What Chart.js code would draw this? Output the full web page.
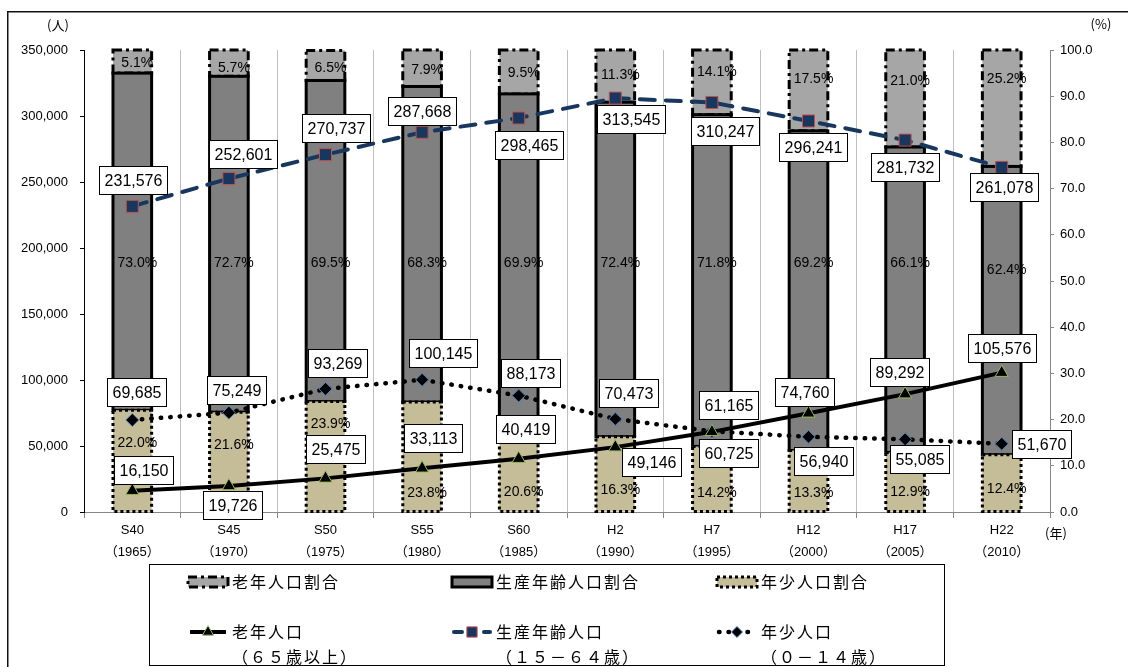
<!DOCTYPE html>
<html lang="ja">
<head>
<meta charset="utf-8">
<title>年齢3区分別人口の推移</title>
<script src="https://cdn.jsdelivr.net/npm/chart.js@4.4.1/dist/chart.umd.min.js"></script>
<style>
  html, body { margin: 0; padding: 0; background: #fff; }
  #wrap { width: 1128px; height: 667px; }
</style>
</head>
<body>
<div id="wrap"><canvas id="popChart" width="1128" height="667"></canvas></div>
<script>
// 年次（和暦・西暦）
const yearsWareki  = ['S40', 'S45', 'S50', 'S55', 'S60', 'H2', 'H7', 'H12', 'H17', 'H22'];
const yearsSeireki = ['1965', '1970', '1975', '1980', '1985', '1990', '1995', '2000', '2005', '2010'];

// 人口（人）
const elderlyPop = [16150, 19726, 25475, 33113, 40419, 49146, 60725, 74760, 89292, 105576];
const workingPop = [231576, 252601, 270737, 287668, 298465, 313545, 310247, 296241, 281732, 261078];
const youngPop   = [69685, 75249, 93269, 100145, 88173, 70473, 61165, 56940, 55085, 51670];

// 割合（％）
const youngPct   = [22.0, 21.6, 23.9, 23.8, 20.6, 16.3, 14.2, 13.3, 12.9, 12.4];
const workingPct = [73.0, 72.7, 69.5, 68.3, 69.9, 72.4, 71.8, 69.2, 66.1, 62.4];
const elderlyPct = [5.1, 5.7, 6.5, 7.9, 9.5, 11.3, 14.1, 17.5, 21.0, 25.2];

// 目盛
const popMax = 350000, popStep = 50000;
const pctMax = 100, pctStep = 10;

// 凡例の２行目
const ageRanges = ['（６５歳以上）', '（１５－６４歳）', '（０－１４歳）'];

// 人口ラベルの位置調整（点からのずれ px）
const elderlyShift = [[11,-21],[4,19],[10,-29],[11,-30],[7,-30],[36,15],[17,21],[-4,-21],[-6,-22],[0,-25]];
const workingShift = [[1,-26],[14,-25],[10,-27],[0,-21],[10,27],[16,21],[13,29],[4,26],[0,27],[2,20]];
const youngShift   = [[4,-28],[8,-23],[12,-26],[21,-27],[12,-23],[13,-26],[17,-26],[15,24],[14,20],[40,0]];

// 割合ラベルの位置調整（棒の中心からのずれ px）
const youngPctDy   = [-18, -17, -32, 36, 28, 16, 14, 12, 10, 6];
const workingPctDy = [21, 19, 22, 19, 8, -6, -17, -28, -37, -40];
const elderlyPctDy = [2, 5, 3, 2, 1, -1, -10, -11, -17, -29];

const NUM_FONT = '"Liberation Sans", Arial, "Noto Sans CJK JP", sans-serif';
const JP_FONT = '"Noto Sans CJK JP", "Liberation Sans", sans-serif';
Chart.defaults.font.family = NUM_FONT;
Chart.defaults.color = '#000';

// 背景と外枠
const frame = {
  id: 'frame',
  beforeDraw(chart) {
    const ctx = chart.ctx;
    ctx.save();
    ctx.fillStyle = '#fff';
    ctx.fillRect(0, 0, chart.width, chart.height);
    ctx.strokeStyle = '#111';
    ctx.lineWidth = 1.5;
    ctx.beginPath();
    ctx.moveTo(7.75, chart.height);
    ctx.lineTo(7.75, 11.75);
    ctx.lineTo(chart.width, 11.75);
    ctx.stroke();
    ctx.restore();
  }
};

// 棒の枠線（点線・実線・一点鎖線）
const barOutline = {
  id: 'barOutline',
  afterDatasetDraw(chart, args) {
    const ds = chart.data.datasets[args.index];
    if (ds.type !== 'bar') return;
    const ctx = chart.ctx;
    ctx.save();
    ctx.strokeStyle = '#000';
    ctx.lineWidth = 3;
    ctx.setLineDash(ds.outlineDash);
    args.meta.data.forEach(bar => {
      const p = bar.getProps(['x', 'y', 'base', 'width'], true);
      const top = Math.max(Math.min(p.y, p.base), chart.chartArea.top);
      ctx.strokeRect(p.x - p.width / 2, top, p.width, Math.max(p.y, p.base) - top);
    });
    ctx.restore();
  }
};

// データラベル
const labels = {
  id: 'labels',
  afterDatasetsDraw(chart) {
    const ctx = chart.ctx;
    ctx.save();
    ctx.textAlign = 'center';
    ctx.textBaseline = 'middle';

    // 割合
    ctx.font = '14px ' + NUM_FONT;
    ctx.fillStyle = '#000';
    [[0, youngPctDy], [1, workingPctDy], [2, elderlyPctDy]].forEach(([di, dy]) => {
      const vals = chart.data.datasets[di].data;
      chart.getDatasetMeta(di).data.forEach((bar, i) => {
        const p = bar.getProps(['x', 'y', 'base'], true);
        const top = Math.max(Math.min(p.y, p.base), chart.chartArea.top);
        const mid = (top + Math.max(p.y, p.base)) / 2;
        ctx.fillText(vals[i].toFixed(1) + '%', p.x + 5, mid + dy[i]);
      });
    });

    // 人口（白抜きの枠）
    ctx.font = '16px ' + NUM_FONT;
    [[3, elderlyShift], [4, workingShift], [5, youngShift]].forEach(([di, shift]) => {
      const vals = chart.data.datasets[di].data;
      chart.getDatasetMeta(di).data.forEach((pt, i) => {
        const text = vals[i].toLocaleString('en-US');
        const w = Math.round(ctx.measureText(text).width + 10), h = 28;
        const cx = pt.x + shift[i][0], cy = pt.y + shift[i][1];
        const l = Math.round(cx - w / 2) + 0.5, t = Math.round(cy - h / 2) + 0.5;
        ctx.fillStyle = '#fff';
        ctx.fillRect(l, t, w, h);
        ctx.strokeStyle = '#000';
        ctx.lineWidth = 1;
        ctx.strokeRect(l, t, w, h);
        ctx.fillStyle = '#000';
        ctx.fillText(text, l + w / 2, t + h / 2 + 1);
      });
    });
    ctx.restore();
  }
};

// 単位と凡例
const legendBox = {
  id: 'legendBox',
  afterDraw(chart) {
    const ctx = chart.ctx;
    const area = chart.chartArea;
    const ds = chart.data.datasets;
    ctx.save();

    ctx.font = '13px ' + JP_FONT;
    ctx.fillStyle = '#000';
    ctx.textAlign = 'center';
    ctx.textBaseline = 'middle';
    ctx.fillText('(人)', 58, 25);
    ctx.fillText('(%)', 1101, 24);
    ctx.fillText('(年)', area.right + 6, area.bottom + 21);

    ctx.strokeStyle = '#000';
    ctx.lineWidth = 1;
    ctx.strokeRect(149.5, 564.5, 795, 101);

    const cols = [188, 452, 717];
    const row1 = 582, row2 = 632, row3 = 657;
    ctx.textAlign = 'left';
    ctx.font = '16px ' + JP_FONT;
    ctx.letterSpacing = '2px';

    // 割合（棒）
    [2, 1, 0].forEach((di, c) => {
      const x = cols[c];
      ctx.fillStyle = ds[di].backgroundColor;
      ctx.fillRect(x, row1 - 5, 40, 10);
      ctx.strokeStyle = '#000';
      ctx.lineWidth = 3;
      ctx.setLineDash(ds[di].outlineDash);
      ctx.strokeRect(x, row1 - 5, 40, 10);
      ctx.setLineDash([]);
      ctx.fillStyle = '#000';
      ctx.fillText(ds[di].label, x + 44, row1);
    });

    // 人口（線）
    [3, 4, 5].forEach((di, c) => {
      const x = cols[c], d = ds[di];
      ctx.strokeStyle = d.borderColor;
      ctx.lineWidth = d.borderWidth;
      ctx.lineCap = d.borderCapStyle || 'butt';
      ctx.setLineDash(d.legendDash || []);
      ctx.beginPath();
      ctx.moveTo(x + 2, row2);
      ctx.lineTo(x + 38, row2);
      ctx.stroke();
      ctx.setLineDash([]);
      ctx.lineCap = 'butt';
      ctx.fillStyle = d.pointBackgroundColor;
      ctx.strokeStyle = d.pointBorderColor;
      ctx.lineWidth = 1;
      Chart.helpers.drawPoint(ctx, {
        pointStyle: d.pointStyle, rotation: 0, radius: d.pointRadius * 0.85, borderWidth: 1
      }, x + 20, row2);
      ctx.fillStyle = '#000';
      ctx.fillText(d.label, x + 44, row2);
      ctx.fillText(ageRanges[c], x + 44, row3);
    });
    ctx.restore();
  }
};

new Chart(document.getElementById('popChart'), {
  data: {
    labels: yearsWareki.map((w, i) => [w, '（' + yearsSeireki[i] + '）']),
    datasets: [
      {
        type: 'bar', label: '年少人口割合', data: youngPct, yAxisID: 'y1',
        backgroundColor: '#c4bd97', borderWidth: 0, outlineDash: [3, 3],
        barPercentage: 0.4, categoryPercentage: 1, order: 2
      },
      {
        type: 'bar', label: '生産年齢人口割合', data: workingPct, yAxisID: 'y1',
        backgroundColor: '#808080', borderWidth: 0, outlineDash: [],
        barPercentage: 0.4, categoryPercentage: 1, order: 2
      },
      {
        type: 'bar', label: '老年人口割合', data: elderlyPct, yAxisID: 'y1',
        backgroundColor: '#a6a6a6', borderWidth: 0, outlineDash: [9, 4, 3, 4],
        barPercentage: 0.4, categoryPercentage: 1, order: 2
      },
      {
        type: 'line', label: '老年人口', data: elderlyPop, yAxisID: 'y',
        borderColor: '#000', borderWidth: 4, tension: 0,
        pointStyle: 'triangle', pointRadius: 7.5,
        pointBackgroundColor: '#000', pointBorderColor: '#9bbb59', pointBorderWidth: 1,
        order: 1
      },
      {
        type: 'line', label: '生産年齢人口', data: workingPop, yAxisID: 'y',
        borderColor: '#17375e', borderWidth: 4, borderDash: [15, 11], borderCapStyle: 'round',
        legendDash: [8, 22], tension: 0,
        pointStyle: 'rect', pointRadius: 8.5,
        pointBackgroundColor: '#17375e', pointBorderColor: '#c0504d', pointBorderWidth: 1,
        order: 1
      },
      {
        type: 'line', label: '年少人口', data: youngPop, yAxisID: 'y',
        borderColor: '#000', borderWidth: 4.5, borderDash: [0.5, 9], borderCapStyle: 'round',
        legendDash: [0.5, 9], tension: 0,
        pointStyle: 'rectRot', pointRadius: 6.5,
        pointBackgroundColor: '#000', pointBorderColor: '#4f81bd', pointBorderWidth: 1,
        order: 1
      }
    ]
  },
  options: {
    responsive: false,
    animation: false,
    devicePixelRatio: 1,
    layout: { padding: { top: 50, left: 0, right: 0, bottom: 105 } },
    plugins: { legend: { display: false }, tooltip: { enabled: false } },
    scales: {
      x: {
        stacked: true,
        grid: { color: '#bfbfbf', offset: true, tickLength: 6, tickColor: '#868686' },
        border: { color: '#868686' },
        ticks: { font: { size: 13, lineHeight: 1.7 }, padding: 1, maxRotation: 0, autoSkip: false },
        afterFit: s => { s.height = 50; }
      },
      y: {
        position: 'left', min: 0, max: popMax,
        grid: { drawOnChartArea: false, tickLength: 4, tickColor: '#000' },
        border: { color: '#000' },
        ticks: { stepSize: popStep, padding: 12, font: { size: 13 }, callback: v => v.toLocaleString('en-US') },
        afterFit: s => { s.width = 84; }
      },
      y1: {
        position: 'right', stacked: true, min: 0, max: pctMax,
        grid: { drawOnChartArea: false, tickLength: 4, tickColor: '#868686' },
        border: { color: '#868686' },
        ticks: { stepSize: pctStep, padding: 6, font: { size: 13 }, callback: v => v.toFixed(1) },
        afterFit: s => { s.width = 78; }
      }
    }
  },
  plugins: [frame, barOutline, labels, legendBox]
});
</script>
</body>
</html>
